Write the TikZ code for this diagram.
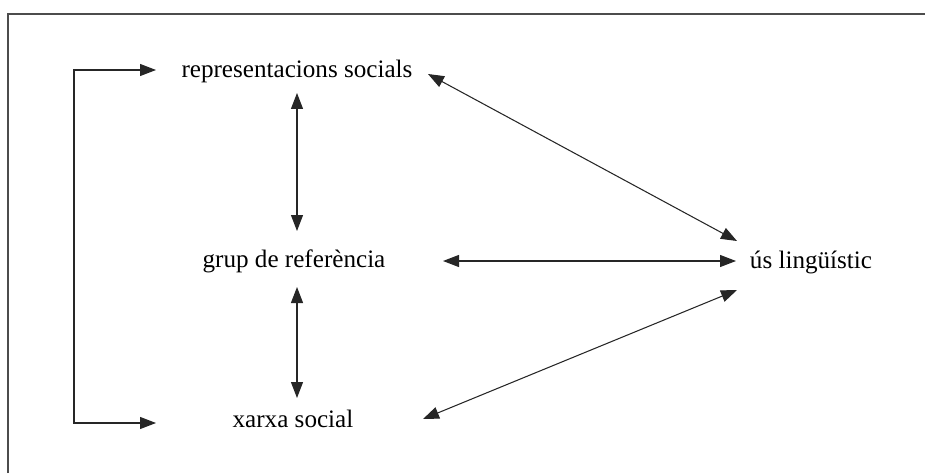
\documentclass[tikz,border=0pt]{standalone}
\usepackage{fontspec}
\setmainfont{Liberation Serif}
\usetikzlibrary{arrows.meta,calc}

\begin{document}
\begin{tikzpicture}[x=0.02cm,y=-0.02cm,
		concept/.style={inner sep=0pt, anchor=base, font=\fontsize{14.3}{17}\selectfont},
		link/.style={line width=0.6pt, color=black!85, {Triangle[length=0.32cm,width=0.24cm]}-{Triangle[length=0.32cm,width=0.24cm]}}]

			\useasboundingbox (0,0) rectangle (925,473);
			\draw[line width=0.9pt, color=black!70] (8,473) -- (8,14) -- (925,14);

			\node[concept] (rep) at (297,77) {representacions socials};
			\node[concept] (grup) at (294,267) {grup de referència};
			\node[concept] (xarxa) at (293,427) {xarxa social};
			\node[concept] (us) at (811,268) {ús lingüístic};

			\draw[link] ($(rep.base)+(0,16)$) -- ($(grup.base)+(3,-36)$);
			\draw[link] ($(grup.base)+(3,20)$) -- ($(xarxa.base)+(4,-29)$);
			\draw[link] ($(grup.base)+(149,-6)$) -- ($(us.base)+(-75,-7)$);
			\draw[link] ($(rep.base)+(131,-3)$) -- ($(us.base)+(-74,-27)$);
			\draw[link] ($(xarxa.base)+(130,-8)$) -- ($(us.base)+(-74,22)$);

			\draw[link] ($(rep.base)+(-141,-7)$) -- ++(-82,0) |- ($(xarxa.base)+(-137,-4)$);
		\end{tikzpicture}
\end{document}
